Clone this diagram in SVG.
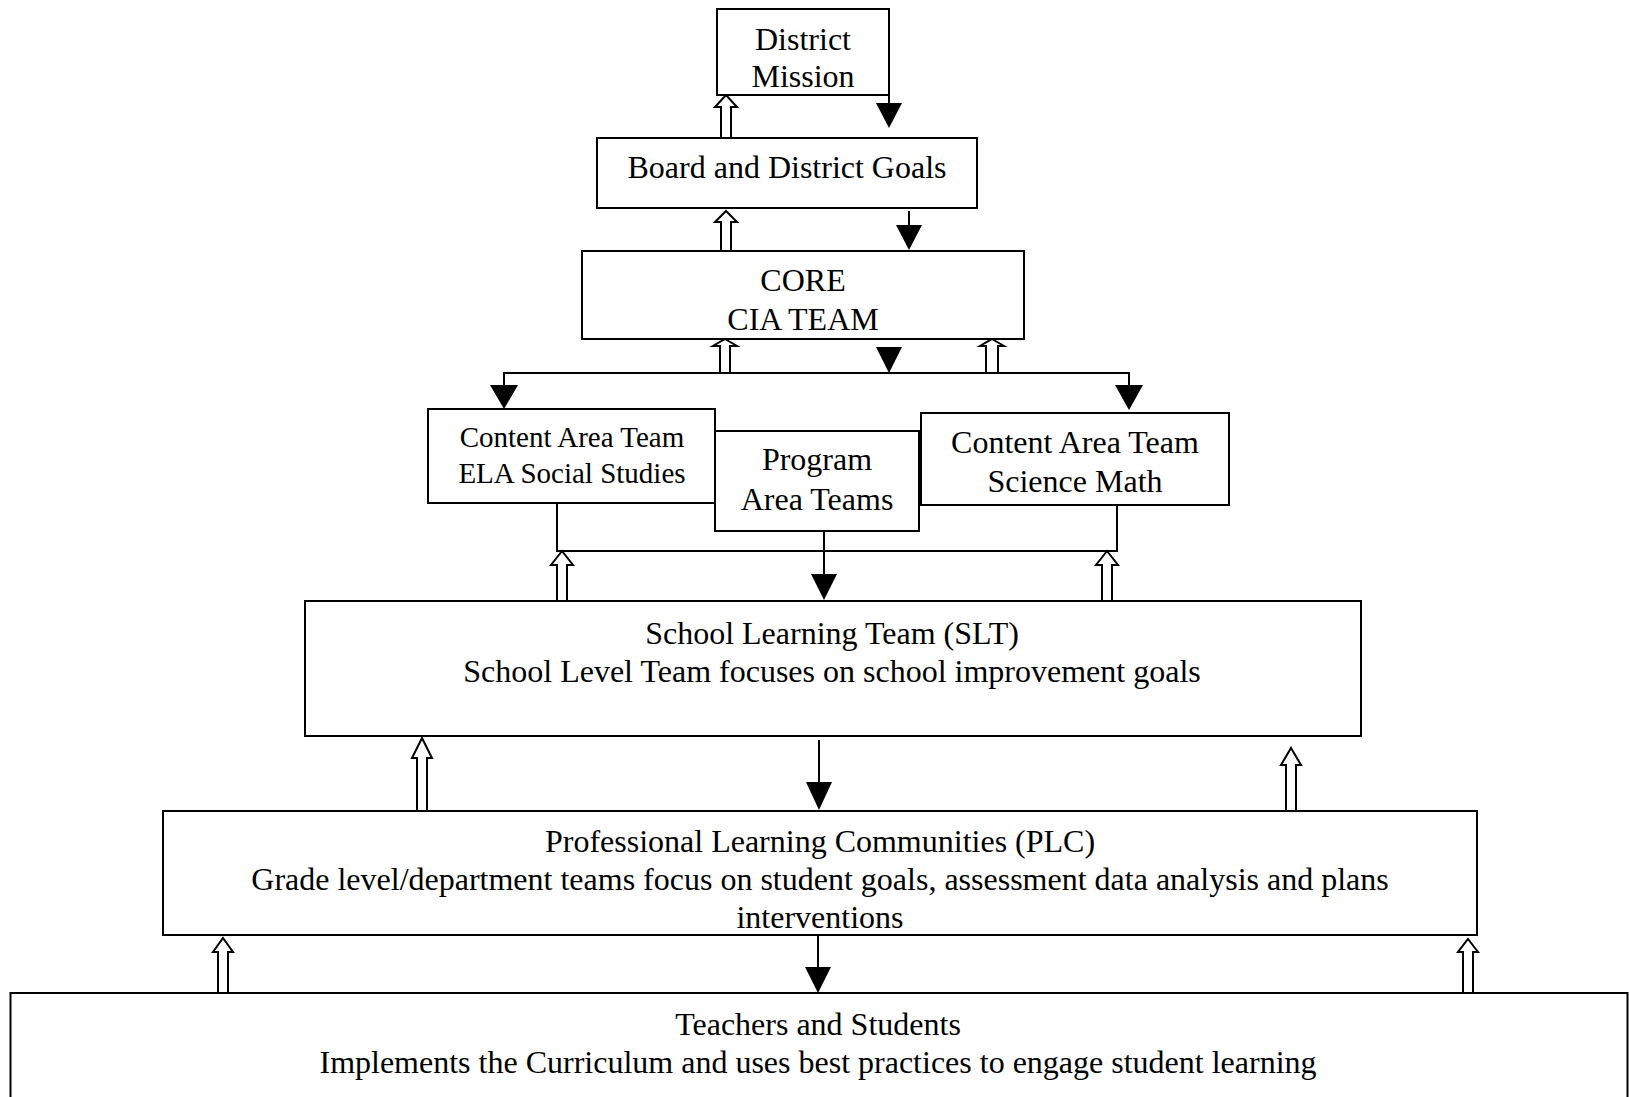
<svg xmlns="http://www.w3.org/2000/svg" width="1629" height="1097" viewBox="0 0 1629 1097">
<style>
.box{fill:#fff;stroke:#000;stroke-width:2}
.t{font-family:"Liberation Serif","Times New Roman",serif;font-size:32px;fill:#000;text-anchor:middle}
.s{font-size:29px}
.ln{fill:none;stroke:#000;stroke-width:2}
.hol{fill:#fff;stroke:#000;stroke-width:2;stroke-linejoin:miter}
.tri{fill:#000;stroke:none}
</style>
<rect width="1629" height="1097" fill="#fff"/>
<g id="connectors">
  <polygon class="hol" points="726,95 737,107 731,107 731,138 721,138 721,107 715,107"/>
  <polygon class="hol" points="726,211 737,222 731,222 731,251 721,251 721,222 715,222"/>
  <polygon class="hol" points="725,339 737,346 730,346 730,373 720,373 720,346 713,346"/>
  <polygon class="hol" points="992,339 1004,346 998,346 998,373 986,373 986,346 980,346"/>
  <polygon class="hol" points="562,551 573,565 567,565 567,601 557,601 557,565 551,565"/>
  <polygon class="hol" points="1107,551 1118,565 1112,565 1112,601 1102,601 1102,565 1096,565"/>
  <polygon class="hol" points="422,738 432,758 427,758 427,811 417,811 417,758 412,758"/>
  <polygon class="hol" points="1291,748 1301,765 1296,765 1296,811 1286,811 1286,765 1281,765"/>
  <polygon class="hol" points="223,938 233,952 228,952 228,993 218,993 218,952 213,952"/>
  <polygon class="hol" points="1468,939 1478,952 1473,952 1473,993 1463,993 1463,952 1458,952"/>
  <line class="ln" x1="889" y1="95" x2="889" y2="104"/>
  <polygon class="tri" points="876,103 902,103 889,128"/>
  <line class="ln" x1="909" y1="211" x2="909" y2="226"/>
  <polygon class="tri" points="896,225 922,225 909,250"/>
  <polygon class="tri" points="876,347 902,347 889,373"/>
  <polyline class="ln" points="504,386 504,373 1129,373 1129,386"/>
  <polygon class="tri" points="490,385 518,385 504,409"/>
  <polygon class="tri" points="1115,385 1143,385 1129,410"/>
  <polyline class="ln" points="557,503 557,551 1117,551 1117,505"/>
  <line class="ln" x1="824" y1="531" x2="824" y2="575"/>
  <polygon class="tri" points="811,574 837,574 824,600"/>
  <line class="ln" x1="819" y1="740" x2="819" y2="783"/>
  <polygon class="tri" points="806,782 832,782 819,810"/>
  <line class="ln" x1="818" y1="932" x2="818" y2="968"/>
  <polygon class="tri" points="805,967 831,967 818,993"/>
</g>
<g id="district-mission">
  <rect class="box" x="717" y="9" width="172" height="86"/>
  <text class="t" x="803" y="50">District</text>
  <text class="t" x="803" y="87">Mission</text>
</g>
<g id="board-goals">
  <rect class="box" x="597" y="138" width="380" height="70"/>
  <text class="t" x="787" y="178">Board and District Goals</text>
</g>
<g id="core-cia">
  <rect class="box" x="582" y="251" width="442" height="88"/>
  <text class="t" x="803" y="291">CORE</text>
  <text class="t" x="803" y="330">CIA TEAM</text>
</g>
<g id="content-ela">
  <rect class="box" x="428" y="409" width="287" height="94"/>
  <text class="t s" x="572" y="447">Content Area Team</text>
  <text class="t s" x="572" y="483">ELA Social Studies</text>
</g>
<g id="program-area">
  <rect class="box" x="715" y="431" width="204" height="100"/>
  <text class="t" x="817" y="470">Program</text>
  <text class="t" x="817" y="510">Area Teams</text>
</g>
<g id="content-science">
  <rect class="box" x="921" y="413" width="308" height="92"/>
  <text class="t" x="1075" y="453">Content Area Team</text>
  <text class="t" x="1075" y="492">Science Math</text>
</g>
<g id="slt">
  <rect class="box" x="305" y="601" width="1056" height="135"/>
  <text class="t" x="832" y="644">School Learning Team (SLT)</text>
  <text class="t" x="832" y="682">School Level Team focuses on school improvement goals</text>
</g>
<g id="plc">
  <rect class="box" x="163" y="811" width="1314" height="124"/>
  <text class="t" x="820" y="852">Professional Learning Communities (PLC)</text>
  <text class="t" x="820" y="890">Grade level/department teams focus on student goals, assessment data analysis and plans</text>
  <text class="t" x="820" y="928">interventions</text>
</g>
<g id="teachers-students">
  <rect class="box" x="10.5" y="993" width="1617" height="130"/>
  <text class="t" x="818" y="1035">Teachers and Students</text>
  <text class="t" x="818" y="1073">Implements the Curriculum and uses best practices to engage student learning</text>
</g>
</svg>
